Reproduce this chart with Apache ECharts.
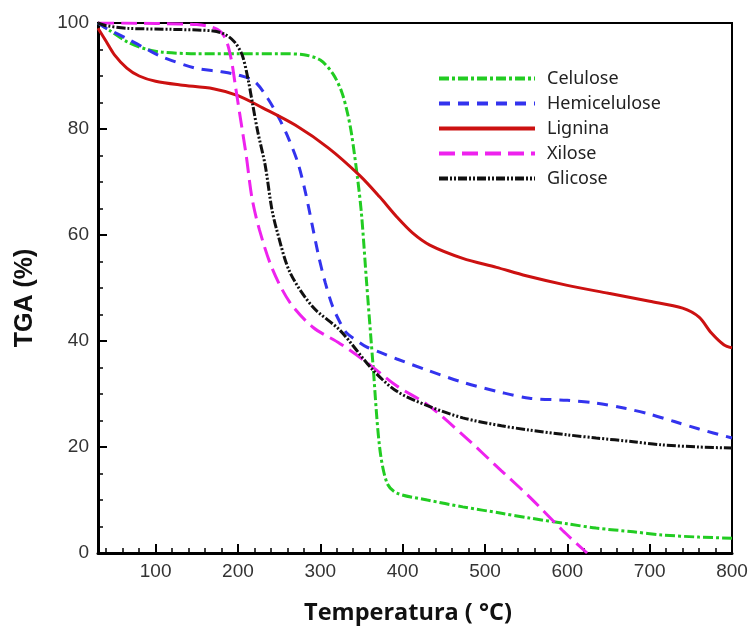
<!DOCTYPE html>
<html>
<head>
<meta charset="utf-8">
<script src="https://cdn.jsdelivr.net/npm/echarts@6/dist/echarts.min.js"></script>
<style>
  html, body { margin: 0; padding: 0; background: #fff; }
  #chart { width: 750px; height: 626px; }
</style>
</head>
<body>
<div id="chart"></div>
<script>
// TGA curves, [temperature °C, mass %]
var celulose = [[30,100],[45,98.5],[66,96.4],[90,95],[108,94.5],[150,94.2],[200,94.2],[250,94.2],[280,94],[300,93],[315,90.5],[326,87],[333,83],[338,79],[345,71],[350,64],[356,51.5],[364,35.5],[372,20],[381,13.2],[393,11.3],[430,10],[473,8.7],[520,7.5],[554,6.6],[600,5.5],[635,4.7],[680,4],[715,3.4],[760,3],[800,2.8]];
var hemicelulose = [[30,100],[40,99],[66,97],[90,95],[108,93.6],[148,91.5],[180,90.8],[200,90.2],[220,89],[236,85.8],[250,82],[262,78],[273,73.5],[282,68],[290,62],[298,56],[306,51],[315,46.5],[324,43.5],[332,41.5],[345,40],[356,38.9],[375,37.7],[393,36.6],[430,34.5],[473,32.2],[520,30.3],[554,29.2],[600,28.8],[635,28.3],[670,27.3],[700,26.2],[730,24.8],[760,23.4],[800,21.7]];
var lignina = [[30,99],[40,96.5],[50,94],[65,91.5],[80,90],[100,89],[130,88.3],[170,87.6],[200,86.3],[230,84],[270,80.7],[310,76.4],[348,71.2],[372,67.2],[393,63.4],[412,60.4],[433,58.1],[473,55.6],[514,53.9],[550,52.3],[600,50.5],[650,49],[700,47.5],[740,46.2],[760,44.5],[775,41.5],[790,39.3],[800,38.7]];
var xilose = [[30,100],[60,100],[100,99.9],[150,99.7],[175,98.8],[185,97],[192,93],[197,88],[203,82],[210,75],[217,67],[226,61],[242,53.5],[263,47.3],[291,42.6],[324,39.5],[356,36],[393,31.5],[430,28],[473,22.3],[520,15.5],[554,10.6],[594,4.3],[624,0]];
var glicose = [[30,100],[40,99.5],[66,99],[120,98.8],[170,98.5],[185,97.8],[196,96.4],[205,94],[212,89.6],[218,84.5],[224,79.5],[233,73.2],[241,65],[247,61],[263,53],[291,46.4],[324,42],[364,34.5],[393,30.5],[430,27.8],[473,25.5],[520,24],[554,23.2],[600,22.3],[635,21.7],[680,21],[715,20.4],[760,20],[800,19.8]];

var names = ['Celulose', 'Hemicelulose', 'Lignina', 'Xilose', 'Glicose'];

var chart = echarts.init(document.getElementById('chart'), null, { renderer: 'canvas' });

function line(name, data, color, type) {
  return {
    name: name,
    type: 'line',
    data: data,
    smooth: 0.3,
    symbol: 'none',
    lineStyle: { color: color, width: 3, type: type },
    itemStyle: { color: color }
  };
}

var option = {
  backgroundColor: '#ffffff',
  animation: false,
  grid: {
    left: 98, right: 18, top: 23, bottom: 73,
    outerBoundsMode: 'none',
    show: true, borderColor: '#000', borderWidth: 2
  },
  legend: {
    orient: 'vertical',
    left: 432,
    top: 61,
    itemWidth: 96,
    itemHeight: 14,
    itemGap: 0,
    data: names,
    itemStyle: { opacity: 0 },
    lineStyle: { width: 4 },
    textStyle: { fontFamily: 'Noto Sans', fontSize: 18, color: '#222', padding: [0, 0, 0, 7], lineHeight: 25 }
  },
  xAxis: {
    type: 'value',
    min: 30,
    max: 800,
    splitNumber: 8,
    name: 'Temperatura ( °C)',
    nameLocation: 'middle',
    nameGap: 48,
    nameTextStyle: { fontFamily: 'Open Sans', fontWeight: 'bold', fontSize: 23.5, color: '#111', padding: [0, 14, 0, 0] },
    axisLine: { lineStyle: { color: '#000', width: 3 } },
    axisTick: { inside: true, length: 9, lineStyle: { color: '#000', width: 2 } },
    minorTick: { show: true, splitNumber: 5, length: 5, lineStyle: { color: '#000', width: 1.5 } },
    axisLabel: {
      showMinLabel: false,
      fontFamily: 'Liberation Sans', fontSize: 19, color: '#333', margin: 9,
      formatter: function (v) { return v % 100 === 0 ? String(v) : ''; }
    },
    splitLine: { show: false }
  },
  yAxis: {
    type: 'value',
    min: 0,
    max: 100,
    interval: 20,
    name: 'TGA (%)',
    nameLocation: 'middle',
    nameGap: 60,
    nameTextStyle: { fontFamily: 'Liberation Sans', fontWeight: 'bold', fontSize: 25, color: '#111', padding: [0, 20, 0, 0] },
    axisLine: { lineStyle: { color: '#000', width: 3 } },
    axisTick: { inside: true, length: 9, lineStyle: { color: '#000', width: 2 } },
    minorTick: { show: true, splitNumber: 4, length: 5, lineStyle: { color: '#000', width: 1.5 } },
    axisLabel: { fontFamily: 'Liberation Sans', fontSize: 19, color: '#333', margin: 9 },
    splitLine: { show: false }
  },
  series: [
    line('Celulose', celulose, '#22cc22', [10, 3, 3, 3]),
    line('Hemicelulose', hemicelulose, '#3333ee', [11, 8]),
    line('Lignina', lignina, '#cc1111', 'solid'),
    line('Xilose', xilose, '#ee22ee', [16, 7]),
    line('Glicose', glicose, '#111111', [9, 2, 2, 2, 2, 2])
  ]
};

chart.setOption(option);
</script>
</body>
</html>
